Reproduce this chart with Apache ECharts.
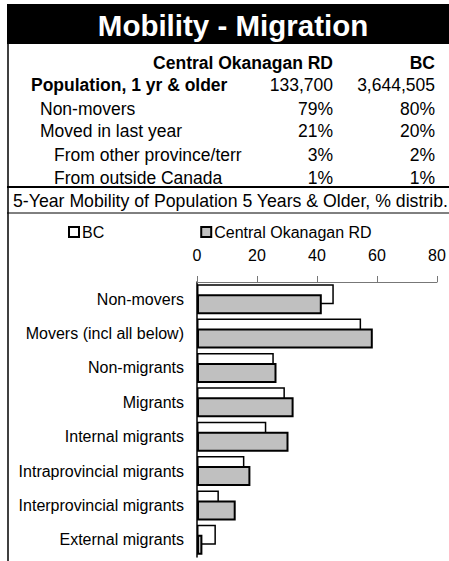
<!DOCTYPE html>
<html>
<head>
<meta charset="utf-8">
<script src="https://cdn.jsdelivr.net/npm/echarts@6/dist/echarts.min.js"></script>
<style>
  html, body { margin: 0; padding: 0; background: #fff; }
  #main { width: 449px; height: 561px; }
</style>
</head>
<body>
<div id="main"></div>
<script>
  // table at the top
  var tableHeaders = ['Central Okanagan RD', 'BC']
  var tableRows = ['Population, 1 yr & older', 'Non-movers', 'Moved in last year', 'From other province/terr', 'From outside Canada']
  var tableCO = ['133,700', '79%', '21%', '3%', '1%']
  var tableBC = ['3,644,505', '80%', '20%', '2%', '1%']

  // bar chart
  var categories = ['Non-movers', 'Movers (incl all below)', 'Non-migrants', 'Migrants', 'Internal migrants',
    'Intraprovincial migrants', 'Interprovincial migrants', 'External migrants']
  var bcValues = [45.6, 54.7, 25.6, 29.3, 23.1, 15.8, 7.3, 6.3]
  var coValues = [41.6, 58.6, 26.5, 32.2, 30.5, 17.8, 12.9, 1.8]
  var xTicks = [0, 20, 40, 60, 80]

  var FONT = 'Liberation Sans, Arial, sans-serif'

  var rowY = [84.5, 109, 131, 154.5, 177.5]
  var rowX = [31, 40, 40, 54, 54]

  var graphics = [
    // title band
    { type: 'rect', shape: { x: 7, y: 4, width: 450, height: 40 }, style: { fill: '#000' } },
    { type: 'text', x: 233, y: 25, style: { text: 'Mobility - Migration', fill: '#fff', font: 'bold 29.5px ' + FONT, textAlign: 'center', textVerticalAlign: 'middle' } },
    // frame lines
    { type: 'line', shape: { x1: 8, y1: 44, x2: 8, y2: 561 }, style: { stroke: '#000', lineWidth: 1.5 } },
    { type: 'line', shape: { x1: 7, y1: 187, x2: 449, y2: 187 }, style: { stroke: '#000', lineWidth: 2 } },
    { type: 'line', shape: { x1: 7, y1: 213, x2: 449, y2: 213 }, style: { stroke: '#000', lineWidth: 1 } },
    // headers
    { type: 'text', x: 333, y: 62.5, style: { text: tableHeaders[0], fill: '#000', font: 'bold 17.5px ' + FONT, textAlign: 'right', textVerticalAlign: 'middle' } },
    { type: 'text', x: 435, y: 62.5, style: { text: tableHeaders[1], fill: '#000', font: 'bold 17.5px ' + FONT, textAlign: 'right', textVerticalAlign: 'middle' } },
    // subtitle
    { type: 'text', x: 13, y: 201, style: { text: '5-Year Mobility of Population 5 Years & Older, % distrib.', fill: '#000', font: '17.7px ' + FONT, textAlign: 'left', textVerticalAlign: 'middle' } }
  ]

  tableRows.forEach(function (label, i) {
    graphics.push({ type: 'text', x: rowX[i], y: rowY[i], style: { text: label, fill: '#000', font: (i == 0 ? 'bold ' : '') + '17.5px ' + FONT, textAlign: 'left', textVerticalAlign: 'middle' } })
    graphics.push({ type: 'text', x: 333, y: rowY[i], style: { text: tableCO[i], fill: '#000', font: '17.5px ' + FONT, textAlign: 'right', textVerticalAlign: 'middle' } })
    graphics.push({ type: 'text', x: 435, y: rowY[i], style: { text: tableBC[i], fill: '#000', font: '17.5px ' + FONT, textAlign: 'right', textVerticalAlign: 'middle' } })
  })

  var myChart = echarts.init(document.getElementById('main'), null, { renderer: 'svg' })
  myChart.setOption({
    animation: false,
    textStyle: { fontFamily: FONT },
    graphic: graphics,
    legend: {
      left: 63,
      top: 219,
      itemWidth: 10,
      itemHeight: 10,
      itemGap: 96,
      icon: 'rect',
      textStyle: { fontSize: 16, color: '#000', padding: [0, 0, 0, -2] },
      data: ['BC', 'Central Okanagan RD']
    },
    grid: {
      left: 197,
      right: 12,
      top: 282,
      bottom: 4,
      containLabel: false
    },
    xAxis: {
      type: 'value',
      position: 'top',
      min: xTicks[0],
      max: xTicks[xTicks.length - 1],
      interval: 20,
      splitLine: { show: false },
      axisLine: { show: true, lineStyle: { color: '#777', width: 1 } },
      axisTick: { show: true, length: 6, lineStyle: { color: '#777' } },
      axisLabel: { fontSize: 16, color: '#000', margin: 19 }
    },
    yAxis: {
      type: 'category',
      inverse: true,
      data: categories,
      axisLine: { show: true, lineStyle: { color: '#000', width: 1.5 } },
      axisTick: { show: false },
      axisLabel: { fontSize: 16, color: '#000', margin: 13 }
    },
    series: [{
        name: 'BC',
        type: 'bar',
        data: bcValues,
        barWidth: 20,
        barGap: '-50%',
        itemStyle: { color: '#fff', borderColor: '#000', borderWidth: 1.5 }
      },
      {
        name: 'Central Okanagan RD',
        type: 'bar',
        data: coValues,
        barWidth: 20,
        itemStyle: { color: '#c0c0c0', borderColor: '#000', borderWidth: 2 }
      }
    ]
  })
</script>
</body>
</html>
